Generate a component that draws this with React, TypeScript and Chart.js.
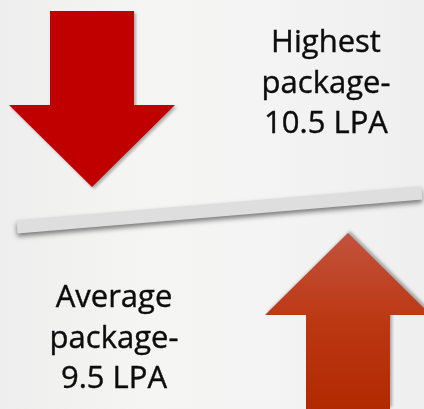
import { useEffect, useRef } from "react";
import { Chart, registerables } from "chart.js";

Chart.register(...registerables);

// ---- data ----
const categories = ["Highest package-", "Average package-"];
const packageLPA = [10.5, 9.5];
const unitLabel = "LPA";
const arrowDirections = ["down", "up"];

// ---- layout (canvas-space units of the hidden scales) ----
const W = 424;
const H = 409;
const ARROW_CENTER = [
  { x: 92, y: 99 },
  { x: 348, y: 321 },
];
const TEXT_CENTER_X = [326, 114];
const TEXT_FIRST_BASELINE = [52, 307];
const LINE_HEIGHT = 40.5;
const DIVIDER = [
  { x: 17, y: 227 },
  { x: 422, y: 193 },
];

function makeArrow(direction: string): HTMLCanvasElement {
  const shaftW = 84;
  const headW = 166;
  const headH = 82;
  const totalH = 176;
  const pad = 10;
  const c = document.createElement("canvas");
  c.width = headW + pad * 2;
  c.height = totalH + pad * 2;
  const ctx = c.getContext("2d")!;
  const cx = c.width / 2;
  ctx.save();
  if (direction === "up") {
    ctx.translate(0, c.height);
    ctx.scale(1, -1);
  }
  // drawn as a down arrow (tip at bottom)
  const top = pad;
  const headBase = pad + totalH - headH;
  const tip = pad + totalH;
  ctx.beginPath();
  ctx.moveTo(cx - shaftW / 2, top);
  ctx.lineTo(cx + shaftW / 2, top);
  ctx.lineTo(cx + shaftW / 2, headBase);
  ctx.lineTo(cx + headW / 2, headBase);
  ctx.lineTo(cx, tip);
  ctx.lineTo(cx - headW / 2, headBase);
  ctx.lineTo(cx - shaftW / 2, headBase);
  ctx.closePath();
  if (direction === "up") {
    const g = ctx.createLinearGradient(0, tip, 0, top);
    g.addColorStop(0, "#C2533D");
    g.addColorStop(0.47, "#BC3915");
    g.addColorStop(1, "#B12900");
    ctx.fillStyle = g;
    ctx.shadowOffsetY = -2;
  } else {
    ctx.fillStyle = "#C00000";
    ctx.shadowOffsetY = 2;
  }
  ctx.shadowColor = "rgba(0,0,0,0.3)";
  ctx.shadowBlur = 3;
  ctx.shadowOffsetX = 2;
  ctx.fill();
  ctx.restore();
  return c;
}

const infographicPlugin = {
  id: "infographic",
  beforeDraw(chart: any) {
    const { ctx } = chart;
    ctx.save();
    const g = ctx.createLinearGradient(0, 0, chart.width, 0);
    g.addColorStop(0, "#EEEEEE");
    g.addColorStop(0.35, "#F5F5F4");
    g.addColorStop(0.6, "#F4F4F4");
    g.addColorStop(1, "#EFEFEF");
    ctx.fillStyle = g;
    ctx.fillRect(0, 0, chart.width, chart.height);
    ctx.restore();
  },
  beforeDatasetDraw(chart: any, args: any) {
    if (args.index === 0) {
      const { ctx } = chart;
      ctx.save();
      ctx.shadowColor = "rgba(0,0,0,0.5)";
      ctx.shadowBlur = 5;
      ctx.shadowOffsetY = 3;
    }
  },
  afterDatasetDraw(chart: any, args: any) {
    if (args.index === 0) chart.ctx.restore();
  },
  afterDatasetsDraw(chart: any) {
    const { ctx, scales } = chart;
    const xs = scales.x;
    const ys = scales.y;
    ctx.save();
    ctx.fillStyle = "#0D0D0D";
    ctx.strokeStyle = "#0D0D0D";
    ctx.lineWidth = 0.4;
    ctx.font = "31px 'Open Sans'";
    ctx.textAlign = "center";
    ctx.textBaseline = "alphabetic";
    categories.forEach((cat, i) => {
      const lines = [...cat.split(" "), `${packageLPA[i]} ${unitLabel}`];
      lines.forEach((line, j) => {
        const px = xs.getPixelForValue(TEXT_CENTER_X[i]);
        const py = ys.getPixelForValue(TEXT_FIRST_BASELINE[i] + j * LINE_HEIGHT);
        ctx.fillText(line, px, py);
        ctx.strokeText(line, px, py);
      });
    });
    ctx.restore();
  },
};

export default function App() {
  const ref = useRef<HTMLCanvasElement>(null);
  useEffect(() => {
    if (!ref.current) return;
    const arrows = arrowDirections.map(makeArrow);
    const chart = new Chart(ref.current, {
      type: "scatter",
      data: {
        datasets: [
          {
            type: "line",
            label: "divider",
            data: DIVIDER,
            borderColor: "#DEDEDE",
            borderWidth: 13,
            borderCapStyle: "butt",
            pointRadius: 0,
            showLine: true,
          } as any,
          {
            label: "packages",
            data: categories.map((_, i) => ARROW_CENTER[i]),
            pointStyle: arrows as any,
            pointRadius: 5,
            clip: false,
          } as any,
        ],
      },
      options: {
        animation: false,
        responsive: false,
        layout: { padding: 0, autoPadding: false },
        events: [],
        plugins: { legend: { display: false }, tooltip: { enabled: false } },
        scales: {
          x: { type: "linear", min: 0, max: W, display: false },
          y: { type: "linear", min: 0, max: H, reverse: true, display: false },
        },
      },
      plugins: [infographicPlugin],
    });
    return () => chart.destroy();
  }, []);
  return (
    <div style={{ position: "fixed", left: 0, top: 0, width: W, height: H }}>
      <canvas ref={ref} width={W} height={H} />
    </div>
  );
}
